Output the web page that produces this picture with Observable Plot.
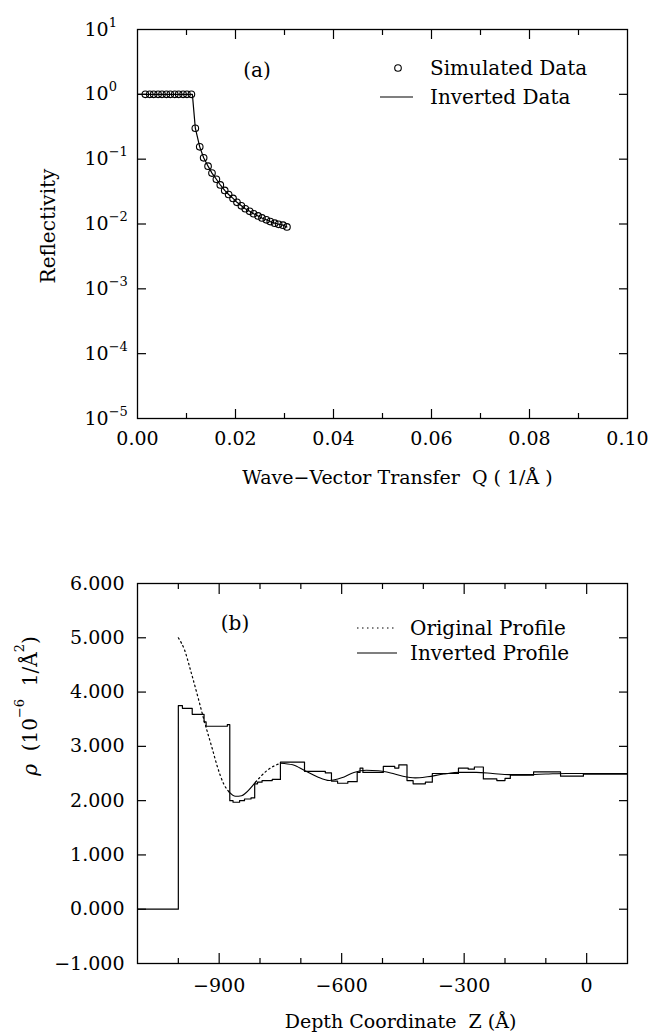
<!DOCTYPE html>
<html><head><meta charset="utf-8">
<script src="https://cdn.jsdelivr.net/npm/d3@7"></script>
<script src="https://cdn.jsdelivr.net/npm/@observablehq/plot@0.6"></script>
<style>
html,body{margin:0;padding:0;background:#fff;}
#wrap{position:relative;width:650px;height:1032px;font-family:"DejaVu Serif",serif;color:#000;overflow:hidden;}
#wrap > div.p{position:absolute;left:0;}
#wrap svg{display:block;}
#overlay{position:absolute;left:0;top:0;pointer-events:none;}
</style></head><body><div id="wrap"><div class="p" id="pa" style="top:0"></div><div class="p" id="pb" style="top:500px"></div></div>
<script>
// ---------- Panel (a) data ----------
const qSim = [0.0016, 0.0025, 0.0033, 0.0042, 0.0050, 0.0059, 0.0067, 0.0076, 0.0084, 0.0093, 0.0101, 0.0110,
              0.0118, 0.0127, 0.0135, 0.0144, 0.0152, 0.0161, 0.0169, 0.0178, 0.0186, 0.0195, 0.0203, 0.0212,
              0.0220, 0.0229, 0.0237, 0.0246, 0.0254, 0.0263, 0.0271, 0.0280, 0.0288, 0.0297, 0.0305];
const rSim = [1, 1, 1, 1, 1, 1, 1, 1, 1, 1, 1, 1,
              0.30, 0.155, 0.105, 0.078, 0.061, 0.049, 0.040, 0.033, 0.0285, 0.0248, 0.0216, 0.0191,
              0.0172, 0.0157, 0.0144, 0.0133, 0.0124, 0.0116, 0.0109, 0.0103, 0.0099, 0.0096, 0.0090];
const qInv = [0.0000, 0.0112, 0.0118, 0.0127, 0.0135, 0.0144, 0.0152, 0.0161, 0.0169, 0.0178, 0.0186, 0.0195,
              0.0203, 0.0212, 0.0220, 0.0229, 0.0237, 0.0246, 0.0254, 0.0263, 0.0271, 0.0280, 0.0288, 0.0297, 0.0305];
const rInv = [1, 1, 0.30, 0.155, 0.105, 0.078, 0.061, 0.049, 0.040, 0.033, 0.0285, 0.0248,
              0.0216, 0.0191, 0.0172, 0.0157, 0.0144, 0.0133, 0.0124, 0.0116, 0.0109, 0.0103, 0.0099, 0.0096, 0.0090];
const xTicksA = [0, 0.02, 0.04, 0.06, 0.08, 0.10];
const xTickLabelsA = ["0.00", "0.02", "0.04", "0.06", "0.08", "0.10"];
const xMajorInnerA = [0.02, 0.04, 0.06, 0.08];
const xMinorA = [0.01, 0.03, 0.05, 0.07, 0.09];
const yTicksA = [1e1, 1e0, 1e-1, 1e-2, 1e-3, 1e-4, 1e-5];
const yTickLabelsA = ["10\u00B9", "10\u2070", "10\u207B\u00B9", "10\u207B\u00B2", "10\u207B\u00B3", "10\u207B\u2074", "10\u207B\u2075"];
const yTickExpA = ["1", "0", "\u22121", "\u22122", "\u22123", "\u22124", "\u22125"];
const yInnerA = [1e0, 1e-1, 1e-2, 1e-3, 1e-4];
const xTitleA = "Wave\u2212Vector Transfer\u00A0\u00A0Q\u00A0(\u00A01/\u00C5\u00A0)";
const yTitleA = "Reflectivity";
const legendA = ["Simulated Data", "Inverted Data"];

// ---------- Panel (b) data ----------
const origZ = [-1000, -985, -970, -950, -937, -917, -905, -889, -876, -860, -845, -835, -811, -782, -750,
               -720, -690, -660, -630, -600, -570, -540, -510, -480, -450, -420, -390, -350, -310, -270,
               -230, -190, -150, -100, -50, 0, 100];
const origRho = [5.00, 4.78, 4.40, 3.85, 3.48, 2.96, 2.64, 2.31, 2.16, 2.08, 2.09, 2.14, 2.34, 2.56, 2.69,
                 2.66, 2.55, 2.44, 2.37, 2.42, 2.52, 2.56, 2.55, 2.51, 2.45, 2.42, 2.44, 2.49, 2.52, 2.52,
                 2.50, 2.48, 2.48, 2.49, 2.50, 2.50, 2.50];
const invZ = [-1100, -1000, -990, -966, -937, -932, -880, -874, -866, -850, -838, -822, -813, -806, -795, -770,
              -750, -691, -640, -625, -610, -585, -562, -555, -548, -498, -470, -460, -440, -425, -395, -378,
              -314, -290, -275, -253, -220, -200, -187, -130, -64, -8, 100];
const invRho = [0.00, 3.75, 3.70, 3.59, 3.45, 3.37, 3.40, 2.00, 1.97, 2.00, 2.03, 2.05, 2.31, 2.34, 2.37, 2.39,
                2.71, 2.54, 2.51, 2.36, 2.32, 2.35, 2.52, 2.60, 2.52, 2.63, 2.60, 2.66, 2.37, 2.31, 2.34, 2.50,
                2.60, 2.58, 2.62, 2.40, 2.37, 2.41, 2.47, 2.53, 2.45, 2.49, 2.49];
const xTicksB = [-900, -600, -300, 0];
const xTickLabelsB = ["\u2212900", "\u2212600", "\u2212300", "0"];
const xMinorB = [-1000, -800, -700, -500, -400, -200, -100];
const yTicksB = [-1, 0, 1, 2, 3, 4, 5, 6];
const yTickLabelsB = ["\u22121.000", "0.000", "1.000", "2.000", "3.000", "4.000", "5.000", "6.000"];
const yInnerB = [0, 1, 2, 3, 4, 5];
const xTitleB = "Depth Coordinate\u00A0\u00A0Z\u00A0(\u00C5)";
const legendB = ["Original Profile", "Inverted Profile"];
const dottedSpans = [[-1000, -876], [-811, -750]];
const solidSpans = [[-876, -811], [-750, 100]];

// ---------- build ----------
const ns = "http://www.w3.org/2000/svg";
const fontStyle = {fontFamily: '"DejaVu Serif", serif', fontSize: "19px", background: "white", color: "black", overflow: "visible"};
const lab = (ticks, labels) => d => labels[ticks.indexOf(d)];
const tickAxes = (k, major, minor, majLen, minLen) => {
  const A = k === "x" ? Plot.axisX : Plot.axisY;
  const anchors = k === "x" ? ["bottom", "top"] : ["left", "right"];
  const out = [];
  for (const a of anchors) {
    out.push(A(major, {anchor: a, tickSize: -majLen, fill: "none", stroke: "black", strokeWidth: 1.2}));
    if (minor && minor.length) out.push(A(minor, {anchor: a, tickSize: -minLen, fill: "none", stroke: "black", strokeWidth: 1.2}));
  }
  return out;
};

const dataSim = qSim.map((q, i) => ({q, r: rSim[i]}));
const dataInvA = qInv.map((q, i) => ({q, r: rInv[i]}));

const plotA = Plot.plot({
  width: 650, height: 500,
  marginLeft: 137, marginRight: 23, marginTop: 29, marginBottom: 82,
  style: fontStyle,
  x: {type: "linear", domain: [0, 0.1], axis: null},
  y: {type: "log", domain: [1e-5, 10], axis: null},
  marks: [
    Plot.line(dataInvA, {x: "q", y: "r", stroke: "black", strokeWidth: 1.2}),
    Plot.dot(dataSim, {x: "q", y: "r", r: 3.3, stroke: "black", strokeWidth: 1.1, fill: "none"}),
    ...tickAxes("x", xMajorInnerA, xMinorA, 9, 5),
    ...tickAxes("y", yInnerA, null, 9, 5),
    Plot.axisX(xTicksA, {anchor: "bottom", tickSize: 0, tickPadding: 13, tickFormat: lab(xTicksA, xTickLabelsA), fontSize: 19, label: null}),
    Plot.axisY(yTicksA, {anchor: "left", tickSize: 0, tickPadding: 53, textAnchor: "start", tickFormat: lab(yTicksA, yTickLabelsA), fontSize: 19, label: null}),
    Plot.frame({stroke: "black", strokeWidth: 1.3}),
    Plot.text([xTitleA], {frameAnchor: "bottom", dy: 59, dx: 15, textAnchor: "middle", lineAnchor: "middle", fontSize: 19}),
    Plot.text([yTitleA], {frameAnchor: "left", dx: -89, dy: 2, rotate: -90, textAnchor: "middle", lineAnchor: "middle", fontSize: 20})
  ]
});
document.getElementById("pa").appendChild(plotA);

// raised exponents on the log tick labels (same text, drawn as "10" + superscript)
plotA.querySelectorAll("text").forEach(t => {
  const i = yTickLabelsA.indexOf(t.textContent);
  if (i < 0) return;
  t.textContent = "";
  const a = document.createElementNS(ns, "tspan"); a.textContent = "10"; t.appendChild(a);
  const b = document.createElementNS(ns, "tspan");
  b.setAttribute("dy", "-9"); b.setAttribute("font-size", "13"); b.textContent = yTickExpA[i]; t.appendChild(b);
});

const orig = origZ.map((z, i) => ({z, rho: origRho[i]}));
const inv = invZ.map((z, i) => ({z, rho: invRho[i]}));
const seg = ([a, b]) => orig.filter(d => d.z >= a && d.z <= b);

const plotB = Plot.plot({
  width: 650, height: 532,
  marginLeft: 137, marginRight: 23, marginTop: 83, marginBottom: 69,
  style: fontStyle,
  x: {type: "linear", domain: [-1100, 100], axis: null},
  y: {type: "linear", domain: [-1, 6], axis: null},
  marks: [
    ...dottedSpans.map(s => Plot.line(seg(s), {x: "z", y: "rho", curve: "monotone-x", stroke: "black", strokeWidth: 1.2, strokeDasharray: "1.6,3"})),
    ...solidSpans.map(s => Plot.line(seg(s), {x: "z", y: "rho", curve: "monotone-x", stroke: "black", strokeWidth: 1.1})),
    Plot.line(inv, {x: "z", y: "rho", curve: "step-after", stroke: "black", strokeWidth: 1.2}),
    ...tickAxes("x", xTicksB, xMinorB, 10, 5),
    ...tickAxes("y", yInnerB, null, 9, 5),
    Plot.axisX(xTicksB, {anchor: "bottom", tickSize: 0, tickPadding: 15, tickFormat: lab(xTicksB, xTickLabelsB), fontSize: 19, label: null}),
    Plot.axisY(yTicksB, {anchor: "left", tickSize: 0, tickPadding: 13, tickFormat: lab(yTicksB, yTickLabelsB), fontSize: 19, label: null}),
    Plot.frame({stroke: "black", strokeWidth: 1.3}),
    Plot.text([xTitleB], {frameAnchor: "bottom", dy: 58, dx: 18, textAnchor: "middle", lineAnchor: "middle", fontSize: 19})
  ]
});
document.getElementById("pb").appendChild(plotB);

// ---------- legends, panel labels and the rho axis title (overlay text) ----------
const ov = document.createElementNS(ns, "svg");
ov.setAttribute("id", "overlay");
ov.setAttribute("width", 650); ov.setAttribute("height", 1032);
ov.setAttribute("font-family", '"DejaVu Serif", serif');
ov.setAttribute("font-size", 20);
const add = (tag, attrs, txt, parent = ov) => {
  const e = document.createElementNS(ns, tag);
  for (const k in attrs) e.setAttribute(k, attrs[k]);
  if (txt) e.textContent = txt;
  parent.appendChild(e);
  return e;
};
add("text", {x: 257, y: 70, "text-anchor": "middle", "dominant-baseline": "central"}, "(a)");
add("circle", {cx: 398, cy: 68, r: 3.3, fill: "none", stroke: "black", "stroke-width": 1.1});
add("text", {x: 430, y: 68, "dominant-baseline": "central"}, legendA[0]);
add("line", {x1: 380, x2: 413, y1: 97, y2: 97, stroke: "black", "stroke-width": 1.2});
add("text", {x: 430, y: 97, "dominant-baseline": "central"}, legendA[1]);
add("text", {x: 235, y: 623, "text-anchor": "middle", "dominant-baseline": "central"}, "(b)");
add("line", {x1: 357, x2: 397, y1: 628, y2: 628, stroke: "black", "stroke-width": 1.2, "stroke-dasharray": "1.5,3.5"});
add("text", {x: 410, y: 628, "dominant-baseline": "central"}, legendB[0]);
add("line", {x1: 357, x2: 397, y1: 653, y2: 653, stroke: "black", "stroke-width": 1.2});
add("text", {x: 410, y: 653, "dominant-baseline": "central"}, legendB[1]);
// rotated y title of panel (b) with raised exponents
const yt = add("text", {transform: "translate(37,706) rotate(-90)", "text-anchor": "middle", "font-size": 20});
add("tspan", {"font-style": "italic"}, "\u03C1", yt);
add("tspan", {}, "\u00A0\u00A0(10", yt);
add("tspan", {dy: "-13", "font-size": 13}, "\u22126", yt);
add("tspan", {dy: "13"}, "\u00A0\u00A01/\u00C5", yt);
add("tspan", {dy: "-13", "font-size": 13}, "2", yt);
add("tspan", {dy: "13"}, ")", yt);
document.getElementById("wrap").appendChild(ov);
</script>
</body></html>
